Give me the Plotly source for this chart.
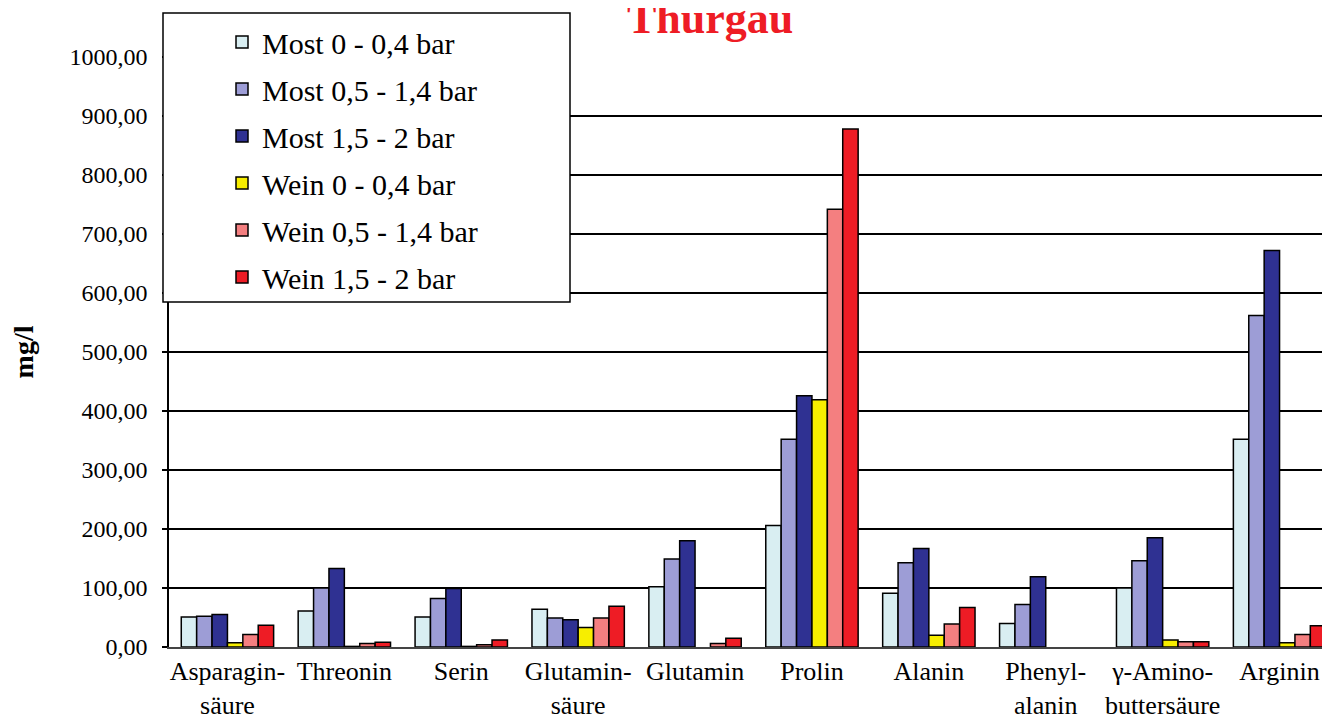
import plotly.graph_objects as go

categories = ["Asparagin-<br>säure", "Threonin", "Serin", "Glutamin-<br>säure", "Glutamin",
              "Prolin", "Alanin", "Phenyl-<br>alanin", "γ-Amino-<br>buttersäure", "Arginin"]

series_names = ["Most 0 - 0,4 bar", "Most 0,5 - 1,4 bar", "Most 1,5 - 2 bar",
                "Wein 0 - 0,4 bar", "Wein 0,5 - 1,4 bar", "Wein 1,5 - 2 bar"]

most_0_04 = [51, 61, 51, 64, 102, 206, 91, 40, 100, 352]
most_05_14 = [52, 100, 82, 49, 149, 352, 143, 72, 146, 562]
most_15_2 = [55, 133, 99, 46, 180, 426, 167, 119, 185, 672]
wein_0_04 = [7, 1, 1, 33, None, 419, 20, None, 12, 7]
wein_05_14 = [21, 6, 4, 49, 6, 742, 39, None, 9, 21]
wein_15_2 = [37, 8, 12, 69, 15, 878, 67, None, 9, 36]

colors = ["#d9eef2", "#9d9dd6", "#2f3192", "#f7ee00", "#f47f80", "#ee1c25"]

font_name = "Liberation Serif, Times New Roman, serif"

# page body adds 8px offset, so margins are compensated
L, T, B = 161, 49, 83
PW, PH = 1330 - L, 722 - T - B


def px(x):
    return (x - 8 - L) / PW


def py(y):
    return (722 - B - (y - 8)) / PH


layout = go.Layout(
    width=1330,
    height=722,
    paper_bgcolor="white",
    plot_bgcolor="white",
    font=dict(family=font_name, color="black"),
    separators=",.",
    margin=dict(l=L, r=0, t=T, b=B),
    barmode="group",
    bargap=0.21,
    bargroupgap=0,
    showlegend=True,
)
fig = go.Figure(layout=layout)

all_values = [most_0_04, most_05_14, most_15_2, wein_0_04, wein_05_14, wein_15_2]
for i, (name, vals) in enumerate(zip(series_names, all_values)):
    fig.add_trace(
        go.Bar(
            x=list(range(len(categories))),
            y=vals,
            name=name,
            legendgroup=str(i),
            marker=dict(color=colors[i], line=dict(color="black", width=1.5)),
        )
    )

fig.update_xaxes(
    tickmode="array",
    tickvals=list(range(len(categories))),
    ticktext=categories,
    range=[-0.5, 9.5],
    showline=True,
    linecolor="#444",
    linewidth=1.5,
    ticks="",
    tickfont=dict(size=26),
    showgrid=False,
)
fig.update_yaxes(
    range=[0, 1000],
    dtick=100,
    tickformat=".2f",
    showline=True,
    linecolor="black",
    linewidth=1.5,
    ticks="outside",
    ticklen=5,
    tickcolor="black",
    tickwidth=1.5,
    ticklabelstandoff=10,
    tickfont=dict(size=24),
    showgrid=True,
    gridcolor="black",
    gridwidth=1.5,
    title=dict(text="<b>mg/l</b>", font=dict(size=28), standoff=30),
    zeroline=False,
)

# legend box
fig.add_shape(type="rect", xref="paper", yref="paper",
              x0=px(163), x1=px(570), y0=py(302), y1=py(13),
              line=dict(color="black", width=1.5), fillcolor="white", layer="above")

fig.update_layout(
    legend=dict(
        x=px(222), y=py(16),
        xanchor="left", yanchor="top",
        bgcolor="rgba(0,0,0,0)",
        font=dict(size=30, family=font_name),
        tracegroupgap=5,
    ),
)

fig.add_annotation(
    text="<b>Thurgau</b>", xref="paper", yref="paper",
    x=px(710), y=py(18),
    xanchor="center", yanchor="middle", showarrow=False,
    font=dict(size=44, color="#ee1c25", family=font_name),
)

fig.write_html("out.html")
